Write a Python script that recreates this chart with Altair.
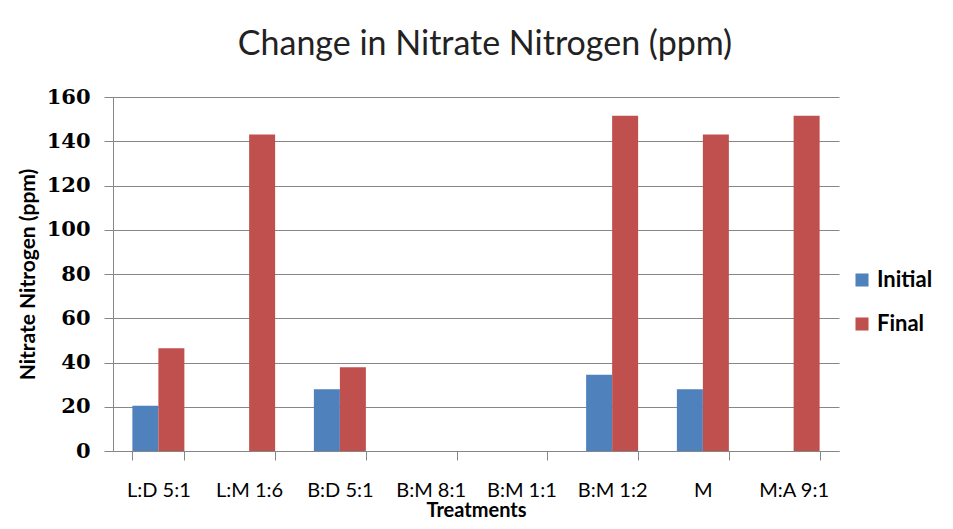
import altair as alt
import pandas as pd

treatments = ["L:D 5:1", "L:M 1:6", "B:D 5:1", "B:M 8:1", "B:M 1:1", "B:M 1:2", "M", "M:A 9:1"]
initial = [20.5, None, 27.9, None, None, 34.5, 27.9, None]
final = [46.4, 143.1, 37.8, None, None, 151.5, 143.1, 151.5]
series = ["Initial", "Final"]
colors = ["#4F81BD", "#C0504D"]

rows = []
for t, i, f in zip(treatments, initial, final):
    if i is not None:
        rows.append({"Treatment": t, "Series": "Initial", "Value": i})
    if f is not None:
        rows.append({"Treatment": t, "Series": "Final", "Value": f})
df = pd.DataFrame(rows)

chart = alt.Chart(df).mark_bar().encode(
    x=alt.X("Treatment:N",
            scale=alt.Scale(domain=treatments, paddingInner=0.427, paddingOuter=0.2135),
            axis=alt.Axis(title="Treatments", labelAngle=0, tickBand="extent", grid=False,
                          labelFont="Lato", labelFontSize=20, labelColor="#000000",
                          labelPadding=20, tickSize=9, tickColor="#868686",
                          domainColor="#868686", titleFont="Lato", titleFontSize=20,
                          titleFontWeight="bold", titleColor="#000000",
                          titleBaseline="alphabetic", titleY=65)),
    xOffset=alt.XOffset("Series:N", scale=alt.Scale(domain=series, paddingInner=0, paddingOuter=0)),
    y=alt.Y("Value:Q", scale=alt.Scale(domain=[0, 160], nice=False),
            axis=alt.Axis(title="Nitrate Nitrogen (ppm)", values=list(range(0, 161, 20)),
                          labelFont="DejaVu Serif", labelFontSize=21, labelFontWeight="bold",
                          labelColor="#000000", labelPadding=14, tickSize=9,
                          tickColor="#868686", domainColor="#868686",
                          gridColor="#868686", gridWidth=1,
                          titleFont="Lato", titleFontSize=21, titleFontWeight="bold",
                          titleColor="#000000", titlePadding=8)),
    color=alt.Color("Series:N", scale=alt.Scale(domain=series, range=colors),
                    legend=alt.Legend(title=None, orient="none", legendX=738, legendY=172,
                                      symbolType="square", symbolSize=170,
                                      symbolStrokeWidth=0, labelFont="Lato",
                                      labelFontSize=22, labelFontWeight="bold",
                                      labelColor="#000000", rowPadding=22)),
).properties(
    width=726,
    height=354,
    title=alt.Title("Change in Nitrate Nitrogen (ppm)", font="Lato", fontSize=34,
                    fontWeight="normal", color="#222222", anchor="middle",
                    offset=24, dx=9),
    padding={"left": 105, "top": 89, "right": 105, "bottom": 70},
    autosize=alt.AutoSizeParams(type="none"),
).configure(background="#ffffff").configure_view(stroke=None)

chart.save("out.html", embed_options={"renderer": "svg", "actions": False})
